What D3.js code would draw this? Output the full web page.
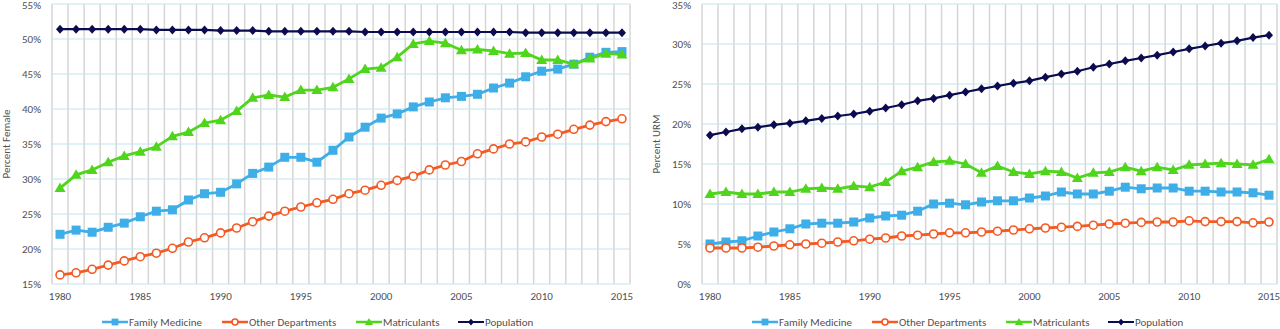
<!DOCTYPE html>
<html>
<head>
<meta charset="utf-8">
<script src="https://cdn.jsdelivr.net/npm/d3@7"></script>
<style>
  body { margin: 0; background: #fff; }
  text { font-family: Carlito, Lato, "Open Sans", sans-serif; fill: #505050; }
</style>
</head>
<body>
<script>
var W = 1280, H = 329;

var years = d3.range(1980, 2016);
var yearTicks = [1980, 1985, 1990, 1995, 2000, 2005, 2010, 2015];
var seriesNames = ["Family Medicine", "Other Departments", "Matriculants", "Population"];

// percent female
var femFamilyMed = [22.1, 22.7, 22.4, 23.1, 23.7, 24.6, 25.4, 25.6, 27.0, 27.9, 28.1, 29.3, 30.8, 31.7, 33.1, 33.1, 32.4, 34.1, 36.0, 37.4, 38.7, 39.3, 40.3, 41.0, 41.6, 41.8, 42.1, 43.0, 43.7, 44.6, 45.4, 45.7, 46.4, 47.4, 48.1, 48.2];
var femOtherDept = [16.3, 16.6, 17.1, 17.7, 18.3, 18.9, 19.4, 20.1, 21.0, 21.6, 22.3, 23.0, 23.9, 24.7, 25.4, 26.0, 26.6, 27.1, 27.9, 28.4, 29.1, 29.8, 30.4, 31.3, 32.0, 32.5, 33.6, 34.3, 35.0, 35.3, 36.0, 36.4, 37.1, 37.7, 38.2, 38.6];
var femMatric = [28.7, 30.6, 31.3, 32.4, 33.3, 33.9, 34.6, 36.1, 36.7, 38.0, 38.4, 39.7, 41.6, 42.0, 41.7, 42.7, 42.7, 43.1, 44.3, 45.7, 45.9, 47.4, 49.3, 49.7, 49.4, 48.4, 48.5, 48.3, 47.9, 48.0, 47.0, 47.0, 46.4, 47.2, 47.9, 47.8];
var femPopulation = [51.4, 51.4, 51.4, 51.4, 51.4, 51.4, 51.3, 51.3, 51.3, 51.3, 51.2, 51.2, 51.2, 51.1, 51.1, 51.1, 51.1, 51.1, 51.1, 51.0, 51.0, 51.0, 51.0, 51.0, 51.0, 51.0, 51.0, 51.0, 51.0, 50.9, 50.9, 50.9, 50.9, 50.9, 50.9, 50.9];

// percent URM
var urmFamilyMed = [5.0, 5.25, 5.4, 6.0, 6.5, 6.9, 7.5, 7.6, 7.6, 7.75, 8.25, 8.5, 8.6, 9.1, 10.0, 10.1, 9.9, 10.25, 10.4, 10.4, 10.75, 11.0, 11.5, 11.25, 11.25, 11.6, 12.1, 11.9, 12.0, 12.0, 11.6, 11.6, 11.5, 11.5, 11.4, 11.1];
var urmOtherDept = [4.5, 4.5, 4.5, 4.6, 4.75, 4.9, 5.0, 5.1, 5.25, 5.4, 5.6, 5.75, 6.0, 6.1, 6.25, 6.4, 6.4, 6.5, 6.6, 6.75, 6.9, 7.0, 7.1, 7.2, 7.35, 7.5, 7.6, 7.7, 7.75, 7.75, 7.9, 7.8, 7.8, 7.8, 7.65, 7.75];
var urmMatric = [11.25, 11.5, 11.25, 11.25, 11.5, 11.5, 11.9, 12.0, 11.9, 12.25, 12.1, 12.75, 14.1, 14.6, 15.25, 15.4, 15.0, 13.9, 14.75, 14.0, 13.75, 14.1, 14.0, 13.25, 13.9, 14.0, 14.6, 14.1, 14.6, 14.25, 14.9, 15.0, 15.1, 15.0, 14.9, 15.6];
var urmPopulation = [18.6, 19.0, 19.4, 19.6, 19.9, 20.1, 20.4, 20.7, 21.0, 21.25, 21.6, 22.0, 22.4, 22.9, 23.2, 23.6, 24.0, 24.4, 24.75, 25.1, 25.4, 25.85, 26.25, 26.6, 27.1, 27.5, 27.9, 28.25, 28.6, 29.0, 29.4, 29.75, 30.1, 30.4, 30.8, 31.1];

var femTicks = [15, 20, 25, 30, 35, 40, 45, 50, 55];
var urmTicks = [0, 5, 10, 15, 20, 25, 30, 35];

var colors = ["#3eaee8", "#f45a24", "#4fd51c", "#0b0b50"];
var symbols = ["square", "circle", "triangle", "diamond"];

var svg = d3.select("body").append("svg")
    .attr("width", W)
    .attr("height", H);

// s scales the marker (legend markers are drawn smaller)
function marker(g, type, color, cx, cy, s) {
    s = s || 1;
    if (type == "square") {
        g.append("rect").attr("x", cx - 4.5 * s).attr("y", cy - 4.5 * s)
            .attr("width", 9 * s).attr("height", 9 * s).attr("fill", color);
    } else if (type == "circle") {
        g.append("circle").attr("cx", cx).attr("cy", cy).attr("r", 4 * s)
            .attr("fill", "#fff").attr("stroke", color).attr("stroke-width", 1.6);
    } else if (type == "triangle") {
        g.append("path")
            .attr("d", "M" + cx + "," + (cy - 5.5 * s) + "L" + (cx + 5.5 * s) + "," + (cy + 4 * s) + "L" + (cx - 5.5 * s) + "," + (cy + 4 * s) + "Z")
            .attr("fill", color);
    } else {
        g.append("path")
            .attr("d", "M" + cx + "," + (cy - 4.5 * s) + "L" + (cx + 4 * s) + "," + cy + "L" + cx + "," + (cy + 4.5 * s) + "L" + (cx - 4 * s) + "," + cy + "Z")
            .attr("fill", color);
    }
}

function drawPanel(opt) {
    var g = svg.append("g");

    var x = d3.scaleBand().domain(years).range([opt.left, opt.right]);
    var y = d3.scaleLinear().domain([opt.ticks[0], opt.ticks[opt.ticks.length - 1]]).range([284, 4]);
    var cx = function (yr) { return x(yr) + x.bandwidth() / 2; };

    // vertical gridlines between categories
    var bounds = years.map(function (yr) { return x(yr); }).concat([opt.right]);
    g.selectAll(".vgrid").data(bounds).enter().append("line")
        .attr("x1", function (d) { return d; }).attr("x2", function (d) { return d; })
        .attr("y1", y.range()[1]).attr("y2", y.range()[0])
        .attr("stroke", "#d6d6d6").attr("stroke-width", 1.5);

    // horizontal gridlines
    g.selectAll(".hgrid").data(opt.ticks).enter().append("line")
        .attr("x1", opt.left).attr("x2", opt.right)
        .attr("y1", function (d) { return y(d); }).attr("y2", function (d) { return y(d); })
        .attr("stroke", "#c3e6f0").attr("stroke-width", 1.2);

    // y tick labels
    var yAxis = g.append("g")
        .attr("transform", "translate(" + (opt.left - 10) + ",0)")
        .call(d3.axisLeft(y).tickValues(opt.ticks).tickSize(0).tickPadding(1)
            .tickFormat(function (d) { return d + "%"; }));
    yAxis.select(".domain").remove();
    yAxis.selectAll("text").style("font-size", "11px").style("font-family", null).attr("fill", "#505050");
    // keep the top label inside the page
    yAxis.selectAll(".tick").filter(function (d, i) { return i == opt.ticks.length - 1; })
        .select("text").attr("dy", "0.45em");

    // x tick labels
    var xAxis = g.append("g")
        .attr("transform", "translate(0,290)")
        .call(d3.axisBottom(x).tickValues(yearTicks).tickSize(0).tickPadding(2));
    xAxis.select(".domain").remove();
    xAxis.selectAll("text").style("font-size", "11px").style("font-family", null).attr("fill", "#505050");

    g.append("text")
        .attr("transform", "translate(" + opt.titleX + ",144) rotate(-90)")
        .attr("text-anchor", "middle")
        .style("font-size", "11px")
        .text(opt.title);

    var line = d3.line()
        .x(function (d) { return cx(d.year); })
        .y(function (d) { return y(d.value); });

    opt.series.forEach(function (vals, i) {
        var pts = years.map(function (yr, j) { return {year: yr, value: vals[j]}; });
        g.append("path").datum(pts)
            .attr("fill", "none")
            .attr("stroke", colors[i])
            .attr("stroke-width", i == 3 ? 2.2 : 2.8)
            .attr("d", line);
        pts.forEach(function (p) {
            marker(g, symbols[i], colors[i], cx(p.year), y(p.value));
        });
    });

    // legend
    var offsets = [0, 120, 254, 356];
    var lg = g.append("g").attr("transform", "translate(" + opt.legendX + ",322)");
    seriesNames.forEach(function (name, i) {
        var item = lg.append("g").attr("transform", "translate(" + offsets[i] + ",0)");
        item.append("line").attr("x1", 0).attr("x2", 26).attr("y1", 0).attr("y2", 0)
            .attr("stroke", colors[i]).attr("stroke-width", i == 3 ? 2 : 2.5);
        marker(item, symbols[i], colors[i], 13, 0, 0.75);
        item.append("text").attr("x", 27).attr("y", 4).style("font-size", "11px").text(name);
    });
}

drawPanel({
    left: 52, right: 630, legendX: 102,
    ticks: femTicks, title: "Percent Female", titleX: 10,
    series: [femFamilyMed, femOtherDept, femMatric, femPopulation]
});

drawPanel({
    left: 702, right: 1277, legendX: 752,
    ticks: urmTicks, title: "Percent URM", titleX: 660,
    series: [urmFamilyMed, urmOtherDept, urmMatric, urmPopulation]
});
</script>
</body>
</html>
